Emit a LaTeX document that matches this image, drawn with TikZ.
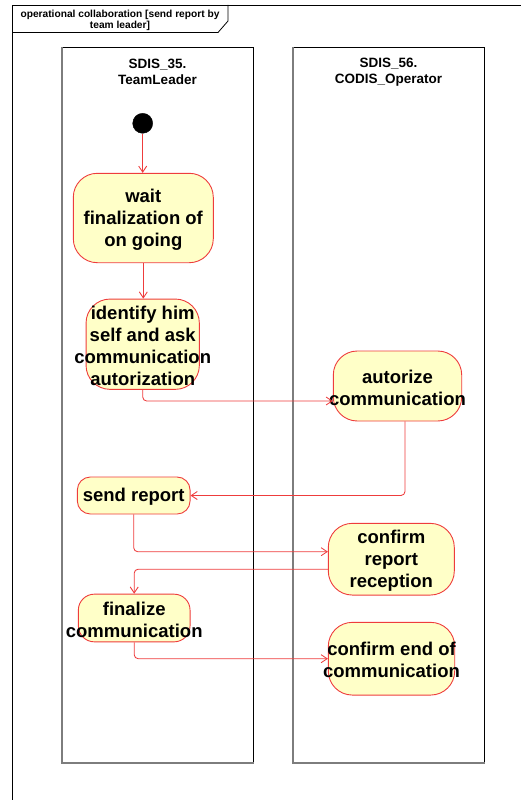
\documentclass[tikz,border=0pt]{standalone}
\usepackage{fontspec}
\setmainfont{Liberation Sans}
\usetikzlibrary{arrows.meta,calc}

\definecolor{actfill}{RGB}{255,255,200}
\definecolor{actline}{RGB}{238,60,60}
\definecolor{lanegray}{RGB}{125,125,125}

\begin{document}
\begin{tikzpicture}[x=1pt,y=-1pt,
  act/.style={draw=actline, fill=actfill, line width=0.9pt, inner sep=0pt,
              rounded corners=24pt},
  acttext/.style={font=\fontsize{18.5}{22}\selectfont\bfseries, align=center,
                  inner sep=0pt, text=black, yshift=-1.5pt},
  hdr/.style={font=\fontsize{13.5}{16}\selectfont\bfseries, align=center, inner sep=0pt},
  ttl/.style={font=\fontsize{10.2}{11.5}\selectfont\bfseries, align=center, inner sep=0pt},
  flow/.style={draw=actline, line width=0.85pt, rounded corners=4pt,
               -{Straight Barb[length=6pt,width=8pt]}},
  lanebox/.style={draw=black, line width=0.8pt},
  laneshade/.style={draw=lanegray, line width=1.4pt}
]
\useasboundingbox (0,0) rectangle (522,800);

% diagram frame with its name tab
\draw[line width=0.8pt] (12.5,805) -- (12.5,5) -- (521,5);
\draw[line width=0.8pt] (12.5,32.5) -- (218,32.5) -- (228,21) -- (228,5);
\node[ttl] (title) at (120,20.5) {operational collaboration [send report by\\team leader]};

% swimlanes
\draw[lanebox] (62,47.5) rectangle (253.5,763);
\draw[laneshade] (62,47.5) -- (62,763) -- (253.5,763);
\draw[lanebox] (293,47.5) rectangle (484.5,763);
\draw[laneshade] (293,47.5) -- (293,763) -- (484.5,763);
\node[hdr] (laneA) at (157.5,72) {SDIS\_35.\\TeamLeader};
\node[hdr] (laneB) at (388.5,72) {SDIS\_56.\\CODIS\_Operator};

% start node
\node[circle, fill=black, draw=black, minimum size=20pt, inner sep=0pt] (init) at (142.7,123.3) {};

% activities
\node[act, minimum width=140pt, minimum height=89.4pt,
      label={[acttext]center:{wait\\finalization of\\on going}}] (wait) at (143.3,218) {};
\node[act, minimum width=113.3pt, minimum height=90.3pt,
      label={[acttext]center:{identify him\\self and ask\\communication\\autorization}}] (ident) at (142.7,344.2) {};
\node[act, minimum width=128.4pt, minimum height=70pt,
      label={[acttext]center:{autorize\\communication}}] (autz) at (397.5,386) {};
\node[act, rounded corners=13pt, minimum width=112.7pt, minimum height=37pt,
      label={[acttext]center:{send report}}] (send) at (133.7,495.5) {};
\node[act, minimum width=126pt, minimum height=71.7pt,
      label={[acttext]center:{confirm\\report\\reception}}] (crr) at (391.3,559.2) {};
\node[act, rounded corners=16pt, minimum width=111.7pt, minimum height=47.7pt,
      label={[acttext]center:{finalize\\communication}}] (fin) at (134.2,618) {};
\node[act, minimum width=126.4pt, minimum height=72.7pt,
      label={[acttext]center:{confirm end of\\communication}}] (cend) at (391.5,658.7) {};

% control flows
\draw[flow] (init) -- (init |- wait.north);
\draw[flow] (wait.south) -- (wait.south |- ident.north);
\draw[flow] (ident.south) |- ($(autz.west)+(0,15)$);
\draw[flow] ($(autz.south)+(7.5,0)$) |- (send.east);
\draw[flow] (send.south) |- ($(crr.west)+(0,-7.5)$);
\draw[flow] ($(crr.west)+(0,10)$) -| (fin.north);
\draw[flow] (fin.south) |- (cend.west);
\end{tikzpicture}
\end{document}
